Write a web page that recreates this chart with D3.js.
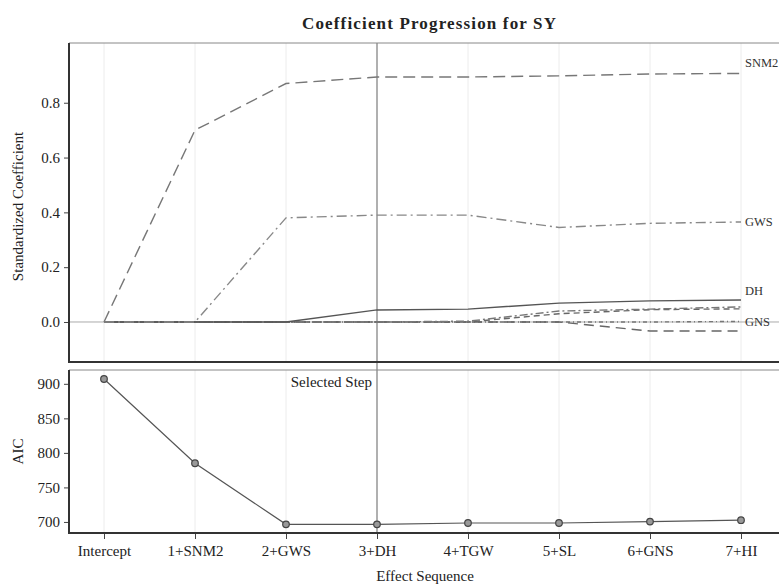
<!DOCTYPE html>
<html>
<head>
<meta charset="utf-8">
<script src="https://cdn.jsdelivr.net/npm/d3@7"></script>
<style>
  body { margin: 0; background: #fff; }
  svg { display: block; font-family: "Liberation Serif", "DejaVu Serif", serif; }
</style>
</head>
<body>
<div id="app"></div>
<script>
'use strict';

// chart data
var steps = ['Intercept', '1+SNM2', '2+GWS', '3+DH', '4+TGW', '5+SL', '6+GNS', '7+HI'];
var snm2 = [0, 0.70, 0.87, 0.894, 0.894, 0.898, 0.905, 0.907];
var gws  = [0, 0, 0.38, 0.39, 0.39, 0.345, 0.36, 0.365];
var dh   = [0, 0, 0, 0.044, 0.047, 0.069, 0.077, 0.08];
var tgw  = [0, 0, 0, 0, 0.003, 0.04, 0.047, 0.055];
var sl   = [0, 0, 0, 0, 0, 0.03, 0.045, 0.048];
var gns  = [0, 0, 0, 0, 0, 0, -0.033, -0.033];
var hi   = [0, 0, 0, 0, 0, 0, 0, 0.002];
var aic  = [907, 785, 696.5, 696.5, 698.5, 698.5, 700.5, 702.5];
var coefTicks = [0, 0.2, 0.4, 0.6, 0.8];
var aicTicks = [700, 750, 800, 850, 900];
var selectedStep = '3+DH';
// labels at the right end of the lines, with the level they sit at
var lineLabels = ['SNM2', 'GWS', 'DH', 'GNS'];
var lineLabelAt = [0.945, 0.365, 0.113, 0];

var series = [
  { name: 'SNM2', values: snm2, dash: '12,6', color: '#777' },
  { name: 'GWS', values: gws, dash: '10,4,2,4', color: '#888' },
  { name: 'DH', values: dh, dash: null, color: '#555' },
  { name: 'TGW', values: tgw, dash: '8,3,2,3', color: '#777' },
  { name: 'SL', values: sl, dash: '6,4', color: '#666' },
  { name: 'GNS', values: gns, dash: '10,6', color: '#666' },
  { name: 'HI', values: hi, dash: '4,3,1,3', color: '#777' }
];

var width = 779, height = 584;
var left = 69, right = 790;
var top1 = 43, bottom1 = 362;
var top2 = 370, bottom2 = 533;

var svg = d3.select('#app').append('svg')
  .attr('width', width)
  .attr('height', height);

var x = d3.scalePoint().domain(steps).range([104, 741]);
var y1 = d3.scaleLinear().domain([-0.146, 1.018]).range([bottom1, top1]);
var y2 = d3.scaleLinear().domain([684, 920]).range([bottom2, top2]);

// title
svg.append('text')
  .attr('x', 302).attr('y', 29)
  .attr('textLength', 254)
  .attr('lengthAdjust', 'spacing')
  .style('font-size', '17px')
  .style('font-weight', 'bold')
  .attr('fill', '#222')
  .text('Coefficient Progression for SY');

// vertical grid lines in both panels
[[top1, bottom1], [top2, bottom2]].forEach(function (p) {
  svg.append('g').selectAll('line').data(steps).enter().append('line')
    .attr('x1', function (d) { return x(d); })
    .attr('x2', function (d) { return x(d); })
    .attr('y1', p[0]).attr('y2', p[1])
    .attr('stroke', '#ececec').attr('stroke-width', 1);
});

// zero reference line
svg.append('line')
  .attr('x1', left).attr('x2', right)
  .attr('y1', y1(0)).attr('y2', y1(0))
  .attr('stroke', '#aaa').attr('stroke-width', 1);

// selected step line across both panels
svg.append('line')
  .attr('x1', x(selectedStep)).attr('x2', x(selectedStep))
  .attr('y1', top1).attr('y2', bottom2)
  .attr('stroke', '#999').attr('stroke-width', 1.5);

// coefficient lines
var coefLine = d3.line()
  .x(function (d, i) { return x(steps[i]); })
  .y(function (d) { return y1(d); });

svg.append('g').selectAll('path').data(series.slice().reverse()).enter().append('path')
  .attr('d', function (d) { return coefLine(d.values); })
  .attr('fill', 'none')
  .attr('stroke', function (d) { return d.color; })
  .attr('stroke-width', 1.4)
  .attr('stroke-dasharray', function (d) { return d.dash; });

svg.append('g').selectAll('text').data(lineLabels).enter().append('text')
  .attr('x', x(steps[steps.length - 1]) + 4)
  .attr('y', function (d, i) { return y1(lineLabelAt[i]); })
  .attr('dy', '0.35em')
  .style('font-size', '12.5px')
  .attr('fill', '#333')
  .text(function (d) { return d; });

// AIC line and markers
var aicLine = d3.line()
  .x(function (d, i) { return x(steps[i]); })
  .y(function (d) { return y2(d); });

svg.append('path')
  .attr('d', aicLine(aic))
  .attr('fill', 'none')
  .attr('stroke', '#555')
  .attr('stroke-width', 1.2);

svg.append('g').selectAll('circle').data(aic).enter().append('circle')
  .attr('cx', function (d, i) { return x(steps[i]); })
  .attr('cy', function (d) { return y2(d); })
  .attr('r', 3.3)
  .attr('fill', '#999')
  .attr('stroke', '#444')
  .attr('stroke-width', 1.2);

svg.append('text')
  .attr('x', x(selectedStep) - 5).attr('y', 382)
  .attr('dy', '0.35em')
  .attr('text-anchor', 'end')
  .style('font-size', '15px')
  .attr('fill', '#222')
  .text('Selected Step');

// frames
svg.append('line').attr('x1', left).attr('x2', right).attr('y1', top1).attr('y2', top1)
  .attr('stroke', '#888').attr('stroke-width', 1);
svg.append('line').attr('x1', left).attr('x2', right).attr('y1', top2).attr('y2', top2)
  .attr('stroke', '#888').attr('stroke-width', 1);

// axes
var yAxis1 = d3.axisLeft(y1).tickValues(coefTicks).tickFormat(d3.format('.1f')).tickSize(5).tickPadding(4);
var yAxis2 = d3.axisLeft(y2).tickValues(aicTicks).tickSize(5).tickPadding(4);
var xAxis = d3.axisBottom(x).tickSize(6).tickPadding(6);

function styleAxis(g) {
  g.select('.domain').remove();
  g.selectAll('.tick line').attr('stroke', '#444');
  g.selectAll('.tick text')
    .style('font-family', '"Liberation Serif", serif')
    .style('font-size', '15px')
    .attr('fill', '#222');
}

svg.append('g').attr('transform', 'translate(' + left + ',0)').call(yAxis1).call(styleAxis);
svg.append('g').attr('transform', 'translate(' + left + ',0)').call(yAxis2).call(styleAxis);
svg.append('g').attr('transform', 'translate(0,' + bottom2 + ')').call(xAxis).call(styleAxis);

svg.append('line').attr('x1', left).attr('x2', right).attr('y1', bottom1).attr('y2', bottom1)
  .attr('stroke', '#333').attr('stroke-width', 2);
svg.append('line').attr('x1', left).attr('x2', right).attr('y1', bottom2).attr('y2', bottom2)
  .attr('stroke', '#333').attr('stroke-width', 2);
svg.append('line').attr('x1', left).attr('x2', left).attr('y1', top1).attr('y2', bottom1 + 1)
  .attr('stroke', '#333').attr('stroke-width', 2);
svg.append('line').attr('x1', left).attr('x2', left).attr('y1', top2).attr('y2', bottom2 + 1)
  .attr('stroke', '#333').attr('stroke-width', 2);

// axis titles
svg.append('text')
  .attr('transform', 'translate(23,' + ((top1 + bottom1) / 2 + 4) + ') rotate(-90)')
  .attr('text-anchor', 'middle')
  .style('font-size', '15px')
  .attr('fill', '#222')
  .text('Standardized Coefficient');

svg.append('text')
  .attr('transform', 'translate(23,' + ((top2 + bottom2) / 2) + ') rotate(-90)')
  .attr('text-anchor', 'middle')
  .style('font-size', '15px')
  .attr('fill', '#222')
  .text('AIC');

svg.append('text')
  .attr('x', 425).attr('y', 581)
  .attr('text-anchor', 'middle')
  .style('font-size', '15px')
  .attr('fill', '#222')
  .text('Effect Sequence');
</script>
</body>
</html>
